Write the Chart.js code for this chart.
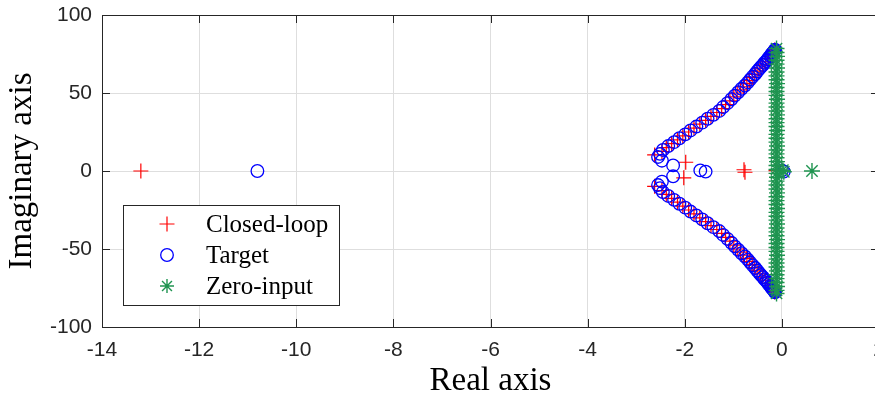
<!DOCTYPE html>
<html>
<head>
<meta charset="utf-8">
<script src="https://cdn.jsdelivr.net/npm/chart.js@4.4.1/dist/chart.umd.min.js"></script>
<style>
  html, body { margin: 0; padding: 0; background: #fff; overflow: hidden; }
  #wrap { width: 875px; height: 398px; overflow: hidden; }
</style>
</head>
<body>
<div id="wrap"><canvas id="pz" width="890" height="398"></canvas></div>
<script>
// pole locations, [real, imaginary]
const closedLoop = [
  [-13.2, 0], [-2.62, 10.3], [-2.62, -9.8], [-1.98, 5.6], [-2.02, -4.4],
  [-0.78, 0.8], [-0.76, -0.8], [-0.12, 0.3],
  [-2.47, 12.5], [-2.38, 15], [-2.27, 17.5], [-2.15, 20], [-2.04, 22.5], [-1.92, 25],
  [-1.81, 27.5], [-1.69, 30], [-1.57, 32.5], [-1.46, 35], [-1.34, 37.5], [-1.24, 40],
  [-1.16, 42.5], [-1.07, 45], [-0.99, 47.5], [-0.92, 50], [-0.85, 52], [-0.79, 54],
  [-0.72, 56], [-0.67, 58], [-0.61, 60], [-0.56, 62], [-0.51, 64], [-0.45, 66],
  [-0.40, 68], [-0.34, 70], [-0.28, 72], [-0.25, 73.5], [-0.21, 75], [-0.17, 76.5], [-0.15, 77.5],
  [-2.47, -12.5], [-2.38, -15], [-2.27, -17.5], [-2.15, -20], [-2.04, -22.5], [-1.92, -25],
  [-1.81, -27.5], [-1.69, -30], [-1.57, -32.5], [-1.46, -35], [-1.34, -37.5], [-1.24, -40],
  [-1.16, -42.5], [-1.07, -45], [-0.99, -47.5], [-0.92, -50], [-0.85, -52], [-0.79, -54],
  [-0.72, -56], [-0.67, -58], [-0.61, -60], [-0.56, -62], [-0.51, -64], [-0.45, -66],
  [-0.40, -68], [-0.34, -70], [-0.28, -72], [-0.25, -73.5], [-0.21, -75], [-0.17, -76.5], [-0.15, -77.5]
];

const target = [
  [-10.8, 0], [-1.68, 0.4], [-1.57, -0.4], [-2.24, 3.6], [-2.24, -3.4],
  [-2.47, 6.6], [-2.47, -6.8], [0.0, 0.4], [0.04, -0.4],
  [-2.55, 9], [-2.51, 11], [-2.45, 13.5], [-2.34, 16], [-2.22, 18.5], [-2.11, 21],
  [-1.99, 23.5], [-1.88, 26], [-1.76, 28.5], [-1.64, 31], [-1.53, 33.5], [-1.41, 36],
  [-1.29, 38.5], [-1.21, 41], [-1.12, 43.5], [-1.04, 46], [-0.97, 48.3], [-0.90, 50.5],
  [-0.83, 52.7], [-0.76, 54.8], [-0.70, 56.8], [-0.65, 58.7], [-0.60, 60.5], [-0.55, 62.2],
  [-0.51, 63.8], [-0.47, 65.3], [-0.43, 66.7], [-0.39, 68], [-0.36, 69.3], [-0.32, 70.5],
  [-0.29, 71.6], [-0.27, 72.6], [-0.24, 73.6], [-0.22, 74.5], [-0.20, 75.3], [-0.18, 76],
  [-0.16, 76.7], [-0.15, 77.3], [-0.14, 77.8],
  [-2.55, -9], [-2.51, -11], [-2.45, -13.5], [-2.34, -16], [-2.22, -18.5], [-2.11, -21],
  [-1.99, -23.5], [-1.88, -26], [-1.76, -28.5], [-1.64, -31], [-1.53, -33.5], [-1.41, -36],
  [-1.29, -38.5], [-1.21, -41], [-1.12, -43.5], [-1.04, -46], [-0.97, -48.3], [-0.90, -50.5],
  [-0.83, -52.7], [-0.76, -54.8], [-0.70, -56.8], [-0.65, -58.7], [-0.60, -60.5], [-0.55, -62.2],
  [-0.51, -63.8], [-0.47, -65.3], [-0.43, -66.7], [-0.39, -68], [-0.36, -69.3], [-0.32, -70.5],
  [-0.29, -71.6], [-0.27, -72.6], [-0.24, -73.6], [-0.22, -74.5], [-0.20, -75.3], [-0.18, -76],
  [-0.16, -76.7], [-0.15, -77.3], [-0.14, -77.8]
];

const zeroInput = [
  [0.62, 0], [0.02, 0.5], [0.04, -0.5],
  [-0.11, 78.5], [-0.11, 76], [-0.10, 73.5], [-0.11, 71], [-0.11, 68.5], [-0.10, 66],
  [-0.11, 63.5], [-0.11, 61], [-0.11, 58.5], [-0.10, 56], [-0.11, 53.5], [-0.11, 51],
  [-0.11, 48.5], [-0.10, 46], [-0.11, 43.5], [-0.11, 41], [-0.11, 38.5], [-0.10, 36],
  [-0.11, 33.5], [-0.11, 31], [-0.11, 28.5], [-0.10, 26], [-0.11, 23.5], [-0.11, 21],
  [-0.11, 18.5], [-0.10, 16], [-0.11, 13.5], [-0.11, 11], [-0.11, 8.5], [-0.10, 6],
  [-0.11, 3.5], [-0.11, 1], [-0.11, -1.5], [-0.10, -4], [-0.11, -6.5], [-0.11, -9],
  [-0.11, -11.5], [-0.10, -14], [-0.11, -16.5], [-0.11, -19], [-0.11, -21.5], [-0.10, -24],
  [-0.11, -26.5], [-0.11, -29], [-0.11, -31.5], [-0.10, -34], [-0.11, -36.5], [-0.11, -39],
  [-0.11, -41.5], [-0.10, -44], [-0.11, -46.5], [-0.11, -49], [-0.11, -51.5], [-0.10, -54],
  [-0.11, -56.5], [-0.11, -59], [-0.11, -61.5], [-0.10, -64], [-0.11, -66.5], [-0.11, -69],
  [-0.11, -71.5], [-0.10, -74], [-0.11, -76.5], [-0.11, -78.5]
];

const seriesNames = ['Closed-loop', 'Target', 'Zero-input'];
const xTicks = [-14, -12, -10, -8, -6, -4, -2, 0, 2];
const yTicks = [-100, -50, 0, 50, 100];

const red = '#ff0000';
const blue = '#0000ff';
const green = '#1f9450';
const axisInk = '#262626';
const serif = '"Liberation Serif", "DejaVu Serif", serif';
const sans = '"Liberation Sans", Arial, sans-serif';

const toXY = (pts) => pts.map(([re, im]) => ({ x: re, y: im }));

const markers = [
  { style: 'cross', color: red, radius: 7.5, width: 1.2 },
  { style: 'circle', color: blue, radius: 6.3, width: 1.3 },
  { style: 'star', color: green, radius: 8, width: 1.4 }
];

// MATLAB-like box with inward tick marks
const framePlugin = {
  id: 'frame',
  afterDatasetsDraw(chart) {
    const { ctx, chartArea: a, scales } = chart;
    ctx.save();
    ctx.strokeStyle = axisInk;
    ctx.lineWidth = 1;
    ctx.beginPath();
    scales.x.ticks.forEach(t => {
      const px = Math.round(scales.x.getPixelForValue(t.value)) + 0.5;
      ctx.moveTo(px, a.bottom); ctx.lineTo(px, a.bottom - 8);
      ctx.moveTo(px, a.top); ctx.lineTo(px, a.top + 8);
    });
    scales.y.ticks.forEach(t => {
      const py = Math.round(scales.y.getPixelForValue(t.value)) + 0.5;
      ctx.moveTo(a.left, py); ctx.lineTo(a.left + 8, py);
      ctx.moveTo(a.right, py); ctx.lineTo(a.right - 8, py);
    });
    ctx.stroke();
    ctx.strokeRect(Math.round(a.left) + 0.5, Math.round(a.top) + 0.5,
      Math.round(a.right - a.left), Math.round(a.bottom - a.top));
    ctx.restore();
  }
};

// legend box drawn inside the axes, lower left
const legendPlugin = {
  id: 'inLegend',
  afterDraw(chart) {
    const { ctx } = chart;
    const box = { x: 123, y: 205, w: 216, h: 100 };
    ctx.save();
    ctx.fillStyle = '#fff';
    ctx.fillRect(box.x, box.y, box.w, box.h);
    ctx.strokeStyle = axisInk;
    ctx.lineWidth = 1;
    ctx.strokeRect(box.x + 0.5, box.y + 0.5, box.w, box.h);
    ctx.font = '25px ' + serif;
    ctx.textBaseline = 'middle';
    ctx.textAlign = 'left';
    seriesNames.forEach((name, i) => {
      const cy = box.y + 19 + i * 31;
      const m = markers[i];
      ctx.strokeStyle = m.color;
      ctx.fillStyle = 'rgba(0,0,0,0)';
      ctx.lineWidth = m.width;
      Chart.helpers.drawPoint(ctx, { pointStyle: m.style, radius: m.radius - (i === 2 ? 1 : 0), borderWidth: m.width, rotation: 0 }, 167, cy);
      ctx.fillStyle = '#000';
      ctx.fillText(name, 206, cy + 1);
    });
    ctx.restore();
  }
};

const makeSet = (label, pts, i, order) => ({
  label,
  data: toXY(pts),
  pointStyle: markers[i].style,
  pointRadius: markers[i].radius,
  pointBorderWidth: markers[i].width,
  pointBorderColor: markers[i].color,
  pointBackgroundColor: 'rgba(0,0,0,0)',
  pointHoverRadius: markers[i].radius,
  showLine: false,
  order
});

new Chart(document.getElementById('pz'), {
  type: 'scatter',
  data: {
    datasets: [
      makeSet(seriesNames[0], closedLoop, 0, 3),
      makeSet(seriesNames[1], target, 1, 2),
      makeSet(seriesNames[2], zeroInput, 2, 1)
    ]
  },
  options: {
    responsive: false,
    animation: false,
    events: [],
    layout: { padding: { left: 0, top: 15, right: 11, bottom: 0 } },
    plugins: { legend: { display: false }, tooltip: { enabled: false } },
    scales: {
      x: {
        type: 'linear',
        min: -14, max: 2,
        afterBuildTicks: s => { s.ticks = xTicks.map(v => ({ value: v })); },
        afterFit: s => { s.height = 71; s.paddingLeft = 0; s.paddingRight = 0; },
        grid: { color: '#dedede', drawTicks: false },
        border: { display: false },
        ticks: { color: axisInk, font: { family: sans, size: 21 }, padding: 11, maxRotation: 0 },
        title: { display: true, text: 'Real axis', color: '#000',
          font: { family: serif, size: 33, lineHeight: 1 }, padding: { top: 0, bottom: 0 } }
      },
      y: {
        type: 'linear',
        min: -100, max: 100,
        afterBuildTicks: s => { s.ticks = yTicks.map(v => ({ value: v })); },
        afterFit: s => { s.width = 102; s.paddingTop = 0; s.paddingBottom = 0; },
        grid: { color: '#dedede', drawTicks: false },
        border: { display: false },
        ticks: { color: axisInk, font: { family: sans, size: 21 }, padding: 10 },
        title: { display: true, text: 'Imaginary axis', color: '#000',
          font: { family: serif, size: 33, lineHeight: 1 }, padding: { top: 6, bottom: 0 } }
      }
    }
  },
  plugins: [framePlugin, legendPlugin]
});
</script>
</body>
</html>
